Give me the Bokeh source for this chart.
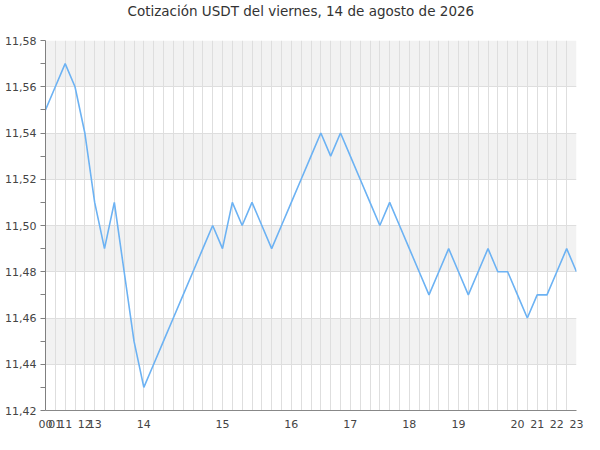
from bokeh.plotting import figure
from bokeh.models import FixedTicker, CustomJSTickFormatter, Range1d, Title
from bokeh.embed import file_html
from bokeh.resources import INLINE

title = "Cotización USDT del viernes, 14 de agosto de 2026"

# hour of each quote (one point per quote)
hours = [0, 1, 11, 11, 12, 13, 13, 13, 13, 13,
         14, 14, 14, 14, 14, 14, 14, 14,
         15, 15, 15, 15, 15, 15, 15,
         16, 16, 16, 16, 16, 16,
         17, 17, 17, 17, 17, 17,
         18, 18, 18, 18, 18,
         19, 19, 19, 19, 19, 19,
         20, 20, 21, 21, 22, 22, 23]

prices = [11.55, 11.56, 11.57, 11.56, 11.54, 11.51, 11.49, 11.51, 11.48, 11.45,
          11.43, 11.44, 11.45, 11.46, 11.47, 11.48, 11.49, 11.50,
          11.49, 11.51, 11.50, 11.51, 11.50, 11.49, 11.50,
          11.51, 11.52, 11.53, 11.54, 11.53, 11.54,
          11.53, 11.52, 11.51, 11.50, 11.51, 11.50,
          11.49, 11.48, 11.47, 11.48, 11.49,
          11.48, 11.47, 11.48, 11.49, 11.48, 11.48,
          11.47, 11.46, 11.47, 11.47, 11.48, 11.49, 11.48]

y_ticks = [11.40, 11.42, 11.44, 11.46, 11.48, 11.50, 11.52, 11.54, 11.56, 11.58]
y_min, y_max = 11.42, 11.58

idx = list(range(len(prices)))
tick_pos = []
tick_lab = {}
for i, h in enumerate(hours):
    if i == 0 or hours[i - 1] != h:
        tick_pos.append(i)
        tick_lab[i] = f"{h:02d}"

FONT = "DejaVu Sans"

p = figure(width=584, height=434, output_backend="svg", toolbar_location=None,
           x_range=Range1d(0, len(prices) - 1), y_range=Range1d(y_min, y_max),
           min_border_left=45, min_border_right=8, min_border_top=40, min_border_bottom=24)
p.title.text = title
p.title.align = "left"
p.title.text_font = FONT
p.title.text_font_size = "13.5px"
p.title.text_font_style = "normal"
p.title.text_color = "#333333"
p.title.standoff = 0
p.title.offset = 82

# empty spacer between title and plot area
p.add_layout(Title(text=" ", text_font_size="13px", standoff=5), "above")

p.line(idx, prices, line_color="#6cb2f3", line_width=1.6)

p.outline_line_color = None
p.background_fill_color = "white"

# x axis
p.xaxis.ticker = FixedTicker(ticks=tick_pos)
p.xaxis.major_label_overrides = tick_lab
p.xaxis.major_tick_out = 0
p.xaxis.major_tick_in = 0
p.xaxis.minor_tick_out = 0
p.xaxis.minor_tick_in = 0
p.xaxis.axis_line_color = "#888888"
p.xaxis.major_label_text_font = FONT
p.xaxis.major_label_text_font_size = "11px"
p.xaxis.major_label_text_color = "#444444"
p.xaxis.major_label_standoff = 9

p.xgrid.ticker = FixedTicker(ticks=idx)
p.xgrid.grid_line_color = "#dedede"
p.xgrid.level = "underlay"

# y axis
p.yaxis.ticker = FixedTicker(ticks=y_ticks, minor_ticks=[round(v + 0.01, 2) for v in y_ticks])
p.yaxis.formatter = CustomJSTickFormatter(code="return tick.toFixed(2).replace('.', ',');")
p.yaxis.major_tick_out = 5
p.yaxis.major_tick_in = 0
p.yaxis.minor_tick_out = 5
p.yaxis.minor_tick_in = 0
p.yaxis.axis_line_color = "#808080"
p.yaxis.major_tick_line_color = "#808080"
p.yaxis.minor_tick_line_color = "#808080"
p.yaxis.major_label_text_font = FONT
p.yaxis.major_label_text_font_size = "11px"
p.yaxis.major_label_text_color = "#444444"
p.yaxis.major_label_standoff = 4

p.ygrid.grid_line_color = "#dedede"
p.ygrid.band_fill_color = "#f2f2f2"
p.ygrid.band_fill_alpha = 1.0
p.ygrid.level = "image"

open("out.html", "w").write(file_html(p, INLINE))
